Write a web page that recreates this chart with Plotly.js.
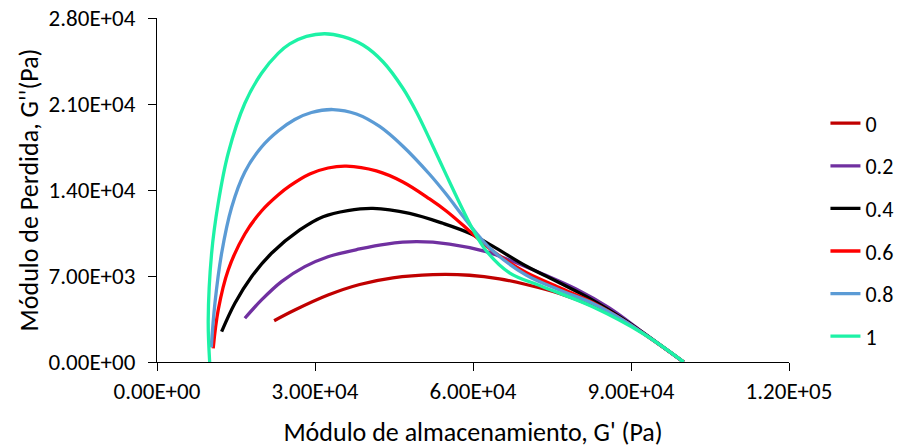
<!DOCTYPE html>
<html>
<head>
<meta charset="utf-8">
<script src="https://cdn.plot.ly/plotly-3.0.1.min.js"></script>
<style>html,body{margin:0;padding:0;background:#fff;}#chart{width:909px;height:448px;}</style>
</head>
<body>
<div id="chart"></div>
<script>
// Series names (legend)
var seriesNames = ["0", "0.2", "0.4", "0.6", "0.8", "1"];

// G' (x) and G'' (y) values, Pa
var x_0 = [22240, 26160, 32470, 38480, 44790, 52380, 59340, 65020, 70080, 76400, 82710, 89040, 100000];
var y_0 = [3360, 4230, 5450, 6310, 6850, 7110, 7060, 6770, 6310, 5580, 4560, 3220, 0];

var x_02 = [16680, 19850, 23640, 28060, 32470, 38480, 43540, 49230, 55540, 62500, 66920, 73230, 79560, 85870, 92190, 100000];
var y_02 = [3560, 5050, 6540, 7760, 8570, 9200, 9600, 9790, 9600, 8980, 8300, 7160, 5940, 4400, 2440, 0];

var x_04 = [12270, 14790, 17950, 21740, 27110, 31530, 36210, 41000, 47960, 54270, 59340, 63750, 70080, 76400, 82710, 89040, 100000];
var y_04 = [2470, 4780, 6940, 8850, 10750, 11830, 12330, 12510, 12100, 11290, 10480, 9430, 7810, 6450, 5040, 3350, 0];

var x_06 = [10670, 11620, 13520, 16680, 19850, 23000, 25210, 29000, 32470, 35960, 41650, 46690, 51750, 54920, 58070, 61230, 65020, 70080, 76400, 82710, 89040, 100000];
var y_06 = [1115, 4230, 7490, 10420, 12290, 13590, 14330, 15300, 15790, 15940, 15550, 14650, 13270, 12290, 11150, 9930, 8630, 7290, 6060, 4840, 3260, 0];

var x_08 = [10300, 11000, 12270, 14160, 16680, 19850, 23000, 26160, 29330, 33420, 37860, 42270, 46690, 51750, 54920, 58070, 61230, 63750, 70080, 76400, 82710, 89040, 100000];
var y_08 = [1200, 4780, 8850, 12580, 15470, 17500, 18800, 19740, 20310, 20550, 20190, 19170, 17560, 15280, 13650, 11880, 10180, 9050, 7080, 5860, 4780, 3260, 0];

var x_1 = [10000, 9725, 10370, 11620, 13520, 16680, 19850, 23000, 25210, 28380, 31850, 35320, 39110, 42900, 46690, 49290, 51750, 54920, 58070, 59960, 62500, 66920, 73230, 82710, 92190, 100000];
var y_1 = [0, 3420, 8850, 12920, 16990, 21060, 23500, 25120, 25890, 26500, 26720, 26480, 25800, 24440, 22280, 20330, 18150, 15230, 12390, 10800, 9060, 7260, 6130, 4500, 2340, 0];

// Axis ticks
var xTickVals = [0, 30000, 60000, 90000, 120000];
var xTickText = ["0.00E+00", "3.00E+04", "6.00E+04", "9.00E+04", "1.20E+05"];
var yTickVals = [0, 7000, 14000, 21000, 28000];
var yTickText = ["0.00E+00", "7.00E+03", "1.40E+04", "2.10E+04", "2.80E+04"];

var colors = ["#C00000", "#7030A0", "#000000", "#FF0000", "#5B9BD5", "#1DF2A6"];
var xs = [x_0, x_02, x_04, x_06, x_08, x_1];
var ys = [y_0, y_02, y_04, y_06, y_08, y_1];

var FONT = "Carlito, Calibri, 'Open Sans', sans-serif";

var traces = xs.map(function (xv, i) {
  return {
    x: xv, y: ys[i], name: seriesNames[i], type: "scatter", mode: "lines",
    legendgroup: "g" + i,
    line: {color: colors[i], width: 3.3, shape: "spline", smoothing: 1}
  };
});

var layout = {
  width: 909, height: 448,
  margin: {l: 157, r: 119, t: 18, b: 86},
  paper_bgcolor: "#ffffff", plot_bgcolor: "#ffffff",
  font: {family: FONT, size: 23, color: "#000"},
  showlegend: true,
  legend: {x: 1.056, y: 0.384, xanchor: "left", yanchor: "middle", font: {family: FONT, size: 22, color: "#000"}, tracegroupgap: 11, bgcolor: "rgba(0,0,0,0)"},
  xaxis: {
    range: [0, 120000], tickvals: xTickVals, ticktext: xTickText,
    showgrid: false, zeroline: false, showline: true, linecolor: "#000", linewidth: 1,
    ticks: "outside", ticklen: 8, tickcolor: "#000", tickfont: {family: FONT, size: 23},
    title: {text: "Módulo de almacenamiento, G' (Pa)", font: {family: FONT, size: 26}, standoff: 20},
    automargin: false
  },
  yaxis: {
    range: [0, 28000], tickvals: yTickVals, ticktext: yTickText,
    showgrid: false, zeroline: false, showline: true, linecolor: "#000", linewidth: 1,
    ticks: "outside", ticklen: 8, tickcolor: "#000", tickfont: {family: FONT, size: 23},
    ticklabelstandoff: 8,
    title: {text: "Módulo de Perdida, G''(Pa)", font: {family: FONT, size: 26}, standoff: 2},
    automargin: false
  }
};

Plotly.newPlot("chart", traces, layout, {displayModeBar: false, staticPlot: true});
</script>
</body>
</html>
